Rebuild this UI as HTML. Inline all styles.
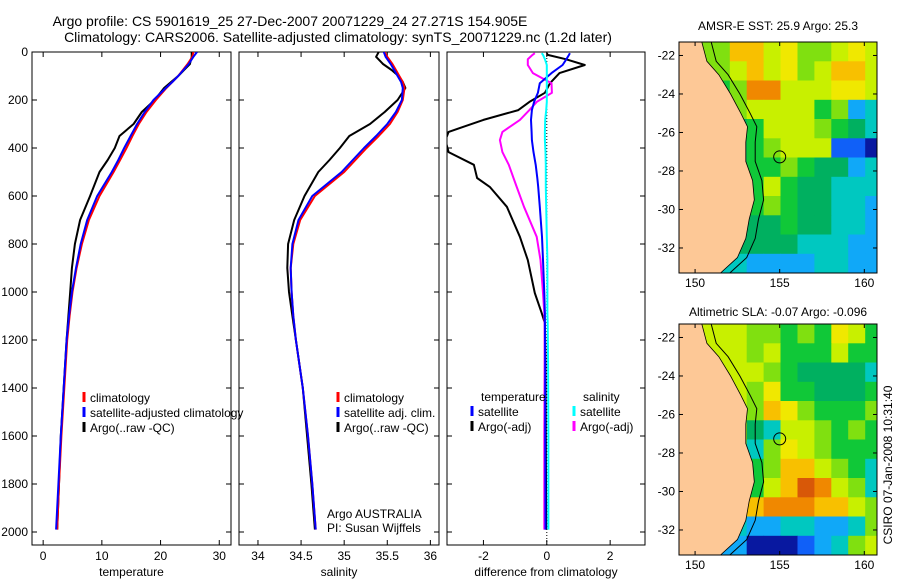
<!DOCTYPE html>
<html><head><meta charset="utf-8"><style>
html,body{margin:0;padding:0;background:#fff;}
svg{display:block;font-family:"Liberation Sans",sans-serif;}
text{fill:#000;}
</style></head><body>
<svg id="c" width="900" height="580" viewBox="0 0 900 580" xmlns="http://www.w3.org/2000/svg">
<text x="290" y="26" font-size="14" text-anchor="middle">Argo profile: CS 5901619_25 27-Dec-2007 20071229_24 27.271S 154.905E</text>
<text x="338" y="42" font-size="14" text-anchor="middle">Climatology: CARS2006. Satellite-adjusted climatology: synTS_20071229.nc (1.2d later)</text>
<text x="778" y="30" font-size="12" text-anchor="middle">AMSR-E SST: 25.9 Argo: 25.3</text>
<text x="778" y="316" font-size="12" text-anchor="middle">Altimetric SLA: -0.07 Argo: -0.096</text>
<text transform="translate(892,465) rotate(-90)" font-size="12" text-anchor="middle">CSIRO 07-Jan-2008 10:31:40</text>
<g id="root"></g>
</svg>
<script>
// ---------- profile data ----------
const depth = [0,20,50,75,100,125,150,200,250,300,350,400,450,500,600,700,800,900,1000,1100,1200,1400,1600,1800,1990];
const tempClim = [25.6,25.4,24.6,23.8,23.0,22.0,21.0,19.2,17.6,16.3,15.2,14.2,13.1,12.0,9.6,7.8,6.6,5.7,5.0,4.5,4.1,3.6,3.1,2.7,2.4];
const tempSat = [26.2,25.6,24.8,23.9,23.0,22.0,20.9,18.8,17.3,16.0,14.9,13.8,12.8,11.7,9.2,7.5,6.4,5.6,4.9,4.4,4.0,3.5,3.0,2.6,2.2];
const tempArgo = [25.3,25.3,25.0,24.0,23.0,21.8,20.6,19.0,16.8,15.4,13.0,12.2,11.0,9.6,8.0,6.3,5.4,4.9,4.6,4.3,4.0,3.5,3.0,2.7,2.4];
const salClim = [35.47,35.5,35.56,35.6,35.64,35.68,35.70,35.68,35.62,35.53,35.40,35.26,35.13,35.0,34.66,34.49,34.41,34.38,34.39,34.41,34.44,34.52,34.58,34.63,34.67];
const salSat = [35.46,35.48,35.54,35.58,35.62,35.66,35.68,35.67,35.60,35.50,35.37,35.23,35.10,34.97,34.63,34.47,34.40,34.38,34.39,34.41,34.44,34.52,34.58,34.63,34.67];
const salArgo = [35.4,35.37,35.45,35.55,35.63,35.68,35.71,35.62,35.47,35.3,35.06,34.95,34.83,34.7,34.54,34.42,34.35,34.34,34.36,34.40,34.44,34.52,34.57,34.62,34.66];
const diffDepth = [5,12,30,54,88,130,170,208,242,283,333,367,417,470,525,562,645,770,867,1004,1088,1130,1300,1600,1990];
const diffTArgo = [0.0,0.03,0.6,1.2,0.4,0.1,-0.06,-0.55,-0.9,-2.0,-3.1,-3.2,-3.1,-2.3,-2.2,-1.8,-1.26,-0.85,-0.6,-0.38,-0.16,-0.06,-0.04,-0.03,-0.02];
const diffTSat = [0.73,0.7,0.62,0.5,0.15,-0.22,-0.28,-0.4,-0.47,-0.5,-0.48,-0.47,-0.42,-0.35,-0.3,-0.27,-0.22,-0.15,-0.12,-0.08,-0.06,-0.06,-0.05,-0.05,-0.04];
const diffSArgo = [-0.38,-0.45,-0.6,-0.6,-0.44,0.15,0.16,-0.32,-0.55,-0.85,-1.4,-1.48,-1.4,-1.2,-1.05,-0.95,-0.72,-0.32,-0.2,-0.12,-0.08,-0.07,-0.07,-0.08,-0.08];
const diffSSat = [-0.16,-0.12,-0.06,0,0,0,0,0,-0.02,-0.05,-0.06,-0.06,-0.04,-0.03,-0.03,-0.03,-0.02,0,0.02,0.02,0.02,0.03,0.04,0.05,0.05];
const depthTicks = [0,200,400,600,800,1000,1200,1400,1600,1800,2000];
const tempTicks = [0,10,20,30];
const salTicks = [34,34.5,35,35.5,36];
const diffTicks = [-2,0,2];
// ---------- map data (1-degree cells, rows from north) ----------
const mapLonTicks = [150,155,160];
const mapLatTicks = [-22,-24,-26,-28,-30,-32];
const sstGrid = ["gggjjhigghih","ggghjhighjjh","ggfgkkhhhiih","fffghhhhfgcd","fffefhhhgfed","fffefghhhbba","ffeeffgfeecd","eeeefhfeeddd","eeeefgfeeddc","eeeeeefeeddc","eeeeeeedddcc","ddddccccddcc"];
const slaGrid = ["hhhhggfgfihf","hhhhghfffhff","hhhhhgfeeeed","hhhhgiffeeef","hhhhgjigfffg","hhhhedhhgfgf","hhhgdgihgfff","hhhgfgjjhgfd","hhhgfhjlkhgd","hhhgjkkkjjhg","ggfdccddccdg","ffccaaabcdgh"];
const coastLon = [150.4,150.7,151.4,152.1,152.7,153.1,153.0,153.0,153.4,153.5,153.2,153.0,152.5,151.5];
const coastLat = [-21.3,-22.3,-23,-24,-25,-25.7,-26.5,-27.5,-28.5,-29.5,-30.5,-31.5,-32.5,-33.3];
const floatLon = 155.0, floatLat = -27.27;

const NS="http://www.w3.org/2000/svg";
const root=document.getElementById('root');
function mk(tag,attrs,parent){const e=document.createElementNS(NS,tag);for(const k in attrs)e.setAttribute(k,attrs[k]);(parent||root).appendChild(e);return e;}
function txt(x,y,s,size,anchor,parent){const t=mk('text',{x:x,y:y,'font-size':size||12,'text-anchor':anchor||'start'},parent);t.textContent=s;return t;}

const TOP=52, BOT=545;
const yD = d => 52 + d*0.24;

function panel(name,x0,x1,xmin,xmax,ticks,label,showY){
  const g=mk('g',{});
  
  
  const xs = v => x0 + (v-xmin)/(xmax-xmin)*(x1-x0);
  const cid='clip-'+name;
  const cp=mk('clipPath',{id:cid},g); mk('rect',{x:x0,y:TOP,width:x1-x0,height:BOT-TOP},cp);
  const frame=mk('rect',{x:x0,y:TOP,width:x1-x0,height:BOT-TOP,fill:'none',stroke:'#000','stroke-width':1},g);
  
  
  depthTicks.forEach(d=>{const y=yD(d);
    mk('line',{x1:x0,y1:y,x2:x0+5,y2:y,stroke:'#000'},g);
    mk('line',{x1:x1,y1:y,x2:x1-5,y2:y,stroke:'#000'},g);
    if(showY){const t=txt(x0-4,y+4,String(d),12,'end',g);
      
      }
  });
  ticks.forEach(v=>{const x=xs(v);
    mk('line',{x1:x,y1:TOP,x2:x,y2:TOP+5,stroke:'#000'},g);
    mk('line',{x1:x,y1:BOT,x2:x,y2:BOT-5,stroke:'#000'},g);
    const t=txt(x,560,String(v),12,'middle',g);
    
    
  });
  const xl=txt((x0+x1)/2,576,label,12,'middle',g);
  
  
  const lg=mk('g',{'clip-path':'url(#'+cid+')'},g);
  return {g:g,lg:lg,xs:xs};
}
function series(p,ds,vs,color,name,w){
  const pts=vs.map((v,i)=>p.xs(v).toFixed(1)+','+yD(ds[i]).toFixed(1)).join(' ');
  const l=mk('polyline',{points:pts,fill:'none',stroke:color,'stroke-width':w||2,'stroke-linejoin':'round'},p.lg);
  
  
}
function legendEntry(parent,x,y,color,label){
  const g=mk('g',{},parent);
  
  
  mk('line',{x1:x,y1:y-10,x2:x,y2:y,stroke:color,'stroke-width':3},g);
  txt(x+6,y,label,12,'start',g);
}

// Temperature panel
const pT=panel('temperature-panel',32,231,-1.9,32,tempTicks,'temperature',true);
series(pT,depth,tempArgo,'#000','temp-argo-line');
series(pT,depth,tempClim,'#f00','temp-climatology-line');
series(pT,depth,tempSat,'#00f','temp-satellite-line');
legendEntry(pT.g,84,402,'#f00','climatology');
legendEntry(pT.g,84,417,'#00f','satellite-adjusted climatology');
legendEntry(pT.g,84,432,'#000','Argo(..raw -QC)');

// Salinity panel
const pS=panel('salinity-panel',239,439,33.78,36.1,salTicks,'salinity',false);
series(pS,depth,salArgo,'#000','sal-argo-line');
series(pS,depth,salClim,'#f00','sal-climatology-line');
series(pS,depth,salSat,'#00f','sal-satellite-line');
legendEntry(pS.g,338,402,'#f00','climatology');
legendEntry(pS.g,338,417,'#00f','satellite adj. clim.');
legendEntry(pS.g,338,432,'#000','Argo(..raw -QC)');
const a1=txt(327,518,'Argo AUSTRALIA',12,'start',pS.g);


const a2=txt(327,532,'PI: Susan Wijffels',12,'start',pS.g);



// Difference panel
const pD=panel('difference-panel',447,645,-3.15,3.1,diffTicks,'difference from climatology',false);
mk('line',{x1:pD.xs(0),y1:TOP,x2:pD.xs(0),y2:BOT,stroke:'#000','stroke-dasharray':'1,2'},pD.lg);
series(pD,diffDepth,diffTArgo,'#000','diff-temp-argo-line');
series(pD,diffDepth,diffSArgo,'#f0f','diff-sal-argo-line');
series(pD,diffDepth,diffTSat,'#00f','diff-temp-satellite-line');
series(pD,diffDepth,diffSSat,'#0ff','diff-sal-satellite-line');
const h1=txt(481,401,'temperature',12,'start',pD.g);


const h2=txt(583,401,'salinity',12,'start',pD.g);


legendEntry(pD.g,472,416,'#00f','satellite');
legendEntry(pD.g,472,431,'#000','Argo(-adj)');
legendEntry(pD.g,574,416,'#0ff','satellite');
legendEntry(pD.g,574,431,'#f0f','Argo(-adj)');

// ---------- maps ----------
const palette={a:'#0818a0',b:'#1060f8',c:'#10a8f8',d:'#00c8c0',e:'#00b060',f:'#10c838',g:'#80e010',h:'#c8f000',i:'#f0e800',j:'#f8c000',k:'#f08800',l:'#d85808'};
function drawMap(name,top,grid){
  const L=679,R=877,B=top+231;
  const lonMin=149.05,lonMax=160.75,latTop=-21.3,latBot=-33.3;
  const mx=lon=>L+(lon-lonMin)/(lonMax-lonMin)*(R-L);
  const my=lat=>top+(latTop-lat)/(latTop-latBot)*(B-top);
  const g=mk('g',{});
  
  
  const cid='clip-'+name;
  const cp=mk('clipPath',{id:cid},g); mk('rect',{x:L,y:top,width:R-L,height:B-top},cp);
  const cg=mk('g',{'clip-path':'url(#'+cid+')'},g);
  grid.forEach((row,r)=>{[...row].forEach((ch,c)=>{
    const x=mx(lonMin+c), y=my(latTop-r);
    const cell=mk('rect',{x:x.toFixed(1),y:y.toFixed(1),width:(mx(lonMin+c+1)-x+0.5).toFixed(1),height:(my(latTop-r-1)-y+0.5).toFixed(1),fill:palette[ch]},cg);
    
    
  });});
  let pts=mx(lonMin)+','+my(latTop);
  coastLon.forEach((lo,i)=>{pts+=' '+mx(lo).toFixed(1)+','+my(coastLat[i]).toFixed(1);});
  pts+=' '+mx(lonMin)+','+my(latBot);
  const land=mk('polygon',{points:pts,fill:'#fdc896',stroke:'#000','stroke-width':0.8},cg);
  
  
  const iso=coastLon.map((lo,i)=>mx(lo+0.55).toFixed(1)+','+my(coastLat[i]).toFixed(1)).join(' ');
  const il=mk('polyline',{points:iso,fill:'none',stroke:'#000','stroke-width':1},cg);
  
  
  const fc=mk('circle',{cx:mx(floatLon),cy:my(floatLat),r:6,fill:'none',stroke:'#000','stroke-width':1},cg);
  
  
  mk('rect',{x:L,y:top,width:R-L,height:B-top,fill:'none',stroke:'#000'},g);
  mapLonTicks.forEach(lo=>{const x=mx(lo);
    mk('line',{x1:x,y1:top,x2:x,y2:top+4,stroke:'#000'},g);
    mk('line',{x1:x,y1:B,x2:x,y2:B-4,stroke:'#000'},g);
    const t=txt(x,B+14,String(lo),12,'middle',g);
    
    
  });
  mapLatTicks.forEach(la=>{const y=my(la);
    mk('line',{x1:L,y1:y,x2:L+4,y2:y,stroke:'#000'},g);
    mk('line',{x1:R,y1:y,x2:R-4,y2:y,stroke:'#000'},g);
    const t=txt(L-4,y+4,String(la),12,'end',g);
    
    
  });
}
drawMap('sst-map',42,sstGrid);
drawMap('sla-map',324,slaGrid);
</script>
</body></html>
